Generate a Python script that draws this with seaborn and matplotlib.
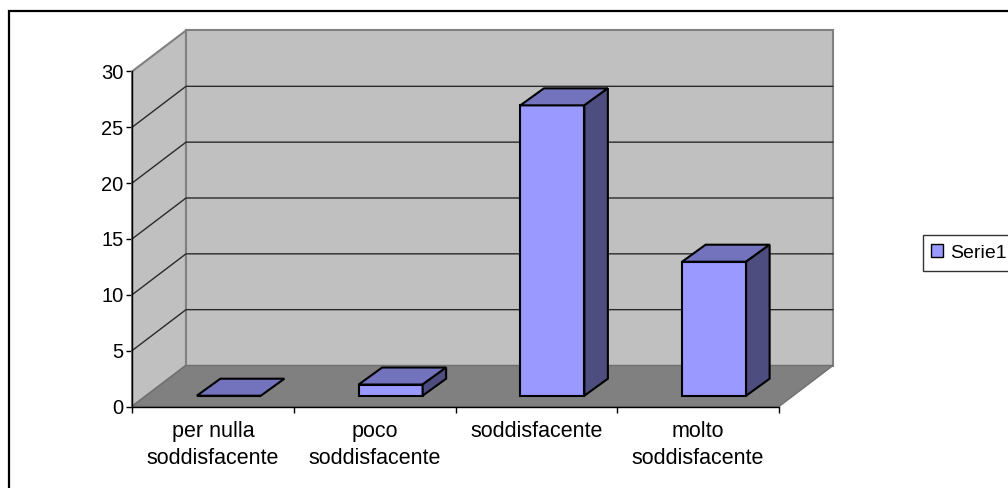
import matplotlib
matplotlib.use("Agg")
import matplotlib.pyplot as plt
import pandas as pd
import seaborn as sns
from matplotlib.lines import Line2D
from matplotlib.patches import Polygon, Rectangle

categories = ["per nulla\nsoddisfacente", "poco\nsoddisfacente", "soddisfacente", "molto\nsoddisfacente"]
values = [0, 1, 26, 12]
series_name = "Serie1"
y_ticks = [0, 5, 10, 15, 20, 25, 30]

W, H = 1008, 488
sns.set_theme(style="white", rc={"font.family": ["Liberation Sans", "DejaVu Sans"]})
fig = plt.figure(figsize=(W / 100, H / 100), dpi=100, facecolor="white")

# plot frame in pixels
L, R, B, T = 132, 833, 406.5, 30.5
ax = fig.add_axes([L / W, 1 - B / H, (R - L) / W, (B - T) / H])
UX, UY = 161.75, 11.167           # pixels per category / per value unit
ax.patch.set_visible(False)

df = pd.DataFrame({"cat": categories, "val": values})
sns.barplot(data=df, x="cat", y="val", color="#9999FF", saturation=1, width=64 / UX,
            edgecolor="black", linewidth=1.5, label=series_name, ax=ax, zorder=5)
ax.set_xlim(-0.5, -0.5 + (R - L) / UX)
ax.set_ylim(0, (B - T) / UY)
ax.set_xlabel("")
ax.set_ylabel("")

wall_dx, wall_dy = 54 / UX, 41 / UY     # depth of the chart box
off_x, off_y = 16 / UX, 10.8 / UY       # where bar fronts sit on the floor
bar_dx, bar_dy = 23.5 / UX, 17 / UY     # depth of one bar
ymax = y_ticks[-1]
front_r = len(categories) - 0.5
left = -0.5

wall = "#C0C0C0"
edge = "#808080"
ax.add_patch(Polygon([(left, 0), (left + wall_dx, wall_dy), (left + wall_dx, wall_dy + ymax), (left, ymax)],
                     fc=wall, ec=edge, lw=1.5, zorder=1, clip_on=False))
ax.add_patch(Polygon([(left + wall_dx, wall_dy), (front_r + wall_dx, wall_dy),
                      (front_r + wall_dx, wall_dy + ymax), (left + wall_dx, wall_dy + ymax)],
                     fc=wall, ec=edge, lw=1.5, zorder=1, clip_on=False))
ax.add_patch(Polygon([(left, 0), (front_r, 0), (front_r + wall_dx, wall_dy), (left + wall_dx, wall_dy)],
                     fc=edge, ec="#707070", lw=1, zorder=1, clip_on=False))
for v in y_ticks[1:-1]:
    ax.plot([left, left + wall_dx, front_r + wall_dx], [v, v + wall_dy, v + wall_dy],
            color="#2a2a2a", lw=1, zorder=2, clip_on=False)

for p in list(ax.patches):
    if p.get_zorder() != 5:
        continue
    x0 = p.get_x() + off_x
    w, h = p.get_width(), p.get_height()
    p.set_x(x0)
    p.set_y(off_y)
    y0 = off_y
    p.set_joinstyle("miter")
    ax.add_patch(Polygon([(x0, y0 + h), (x0 + w, y0 + h), (x0 + w + bar_dx, y0 + h + bar_dy), (x0 + bar_dx, y0 + h + bar_dy)],
                         fc="#7373BD", ec="black", lw=1.5, zorder=6))
    if h > 0:
        ax.add_patch(Polygon([(x0 + w, y0), (x0 + w + bar_dx, y0 + bar_dy), (x0 + w + bar_dx, y0 + h + bar_dy), (x0 + w, y0 + h)],
                             fc="#4D4D80", ec="black", lw=1.5, zorder=6))

sns.despine(ax=ax, top=True, right=True)
ax.spines["left"].set_bounds(0, ymax)
ax.spines["bottom"].set_bounds(left, front_r)
for s in ("left", "bottom"):
    ax.spines[s].set_color("black")
    ax.spines[s].set_linewidth(1)
    ax.spines[s].set_zorder(8)

ax.set_yticks(y_ticks)
ax.set_xticks([left + i for i in range(len(categories) + 1)])
ax.set_xticklabels([])
ax.set_xticks(range(len(categories)), categories, minor=True)
ax.tick_params(axis="y", left=True, length=4, width=1, color="black", labelsize=14.5, labelcolor="black", pad=2)
ax.tick_params(axis="x", which="major", bottom=True, length=4, width=1, color="black")
ax.tick_params(axis="x", which="minor", bottom=False, length=0, labelsize=15.5, labelcolor="black", pad=10.3)
for t in ax.get_xticklabels(minor=True):
    t.set_linespacing(1.38)

handles, labels = ax.get_legend_handles_labels()

# legend box runs past the right limit of the picture
ax.add_patch(Rectangle((923 / W, 1 - 271 / H), 100 / W, 36 / H, fc="white", ec="#333333", lw=1,
                       transform=fig.transFigure, zorder=9, clip_on=False))
leg = ax.legend(handles, labels, loc="center left", bbox_to_anchor=(923 / W, 1 - 253 / H),
                bbox_transform=fig.transFigure, borderaxespad=0, fontsize=14, frameon=False,
                handlelength=0.65, handleheight=0.65, handletextpad=0.33, borderpad=0.4,
                labelcolor="black")
for h in leg.legend_handles:
    h.set_linewidth(1)
leg.set_zorder(10)

# outer chart border: top and left edges reach the picture limit
fig.add_artist(Line2D([8.5 / W, 8.5 / W, 1], [0, 1 - 11 / H, 1 - 11 / H], color="black", lw=1.6,
                      transform=fig.transFigure, solid_joinstyle="miter"))

fig.savefig("out.png", dpi=100, facecolor="white")
